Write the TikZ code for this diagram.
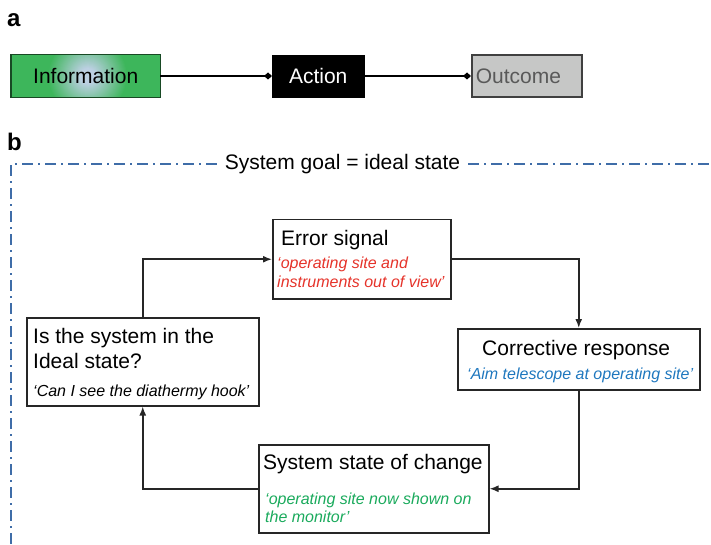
\documentclass[tikz,border=0pt]{standalone}
\usepackage{fontspec}
\setmainfont{Liberation Sans}
\usepackage{xcolor}
\usepackage{tikz}
\usetikzlibrary{arrows.meta}
\definecolor{goalblue}{HTML}{3F6DA8}
\definecolor{errred}{HTML}{E5332A}
\definecolor{resblue}{HTML}{1E77BE}
\definecolor{chggreen}{HTML}{1AAA5C}
\definecolor{infogreen}{HTML}{3DB65B}
\definecolor{infolight}{HTML}{BCD0E2}
\definecolor{outgray}{HTML}{C6C7C6}

\tikzset{
  panel/.style={font=\fontsize{24}{28}\selectfont\bfseries, anchor=base west, inner sep=0pt},
  stepbox/.style={draw=black!85, line width=1.5pt, anchor=north west, inner sep=0pt},
  head/.style={font=\fontsize{21}{25}\selectfont, anchor=base west, inner sep=0pt},
  quote/.style={font=\fontsize{16}{19}\selectfont\itshape, anchor=base west, inner sep=0pt},
  flow/.style={draw=black!85, line width=1.6pt, -{Latex[length=9pt,width=7pt]}},
  chainbox/.style={font=\fontsize{21}{25}\selectfont, minimum height=42pt, inner sep=0pt, anchor=west},
  link/.style={line width=2.8pt, -{Diamond[length=8pt,width=7pt]}},
  goalline/.style={goalblue, line width=1.4pt, dash pattern=on 11pt off 5pt on 2pt off 5pt}
}

\begin{document}
\begin{tikzpicture}[x=1pt, y=-1pt]
  \useasboundingbox (0,0) rectangle (711,545);
  \node[panel] (laba) at (7,27) {a};
  \node[chainbox, minimum width=149pt, fill=infogreen,
        path picture={
          \foreach \r in {40,39,...,1}{
            \pgfmathsetmacro\pc{min(100,(40-\r)*100/32)}
            \fill[infolight!\pc!infogreen] ([xshift=2pt]path picture bounding box.center) circle (\r pt);
          }}] (info) at (11,76) {Information};
  \draw[infogreen!40!black, line width=1.2pt] (info.south west) rectangle (info.north east);
  \node[chainbox, minimum width=92pt, fill=black, draw=black, text=white] (act) at (272,76) {Action};
  \node[chainbox, text width=102pt, inner xsep=4pt, align=left, fill=outgray,
        draw=black!75, line width=1.5pt, text=black!65] (outc) at (471,76) {Outcome};
  \draw[link] (info) -- (act);
  \draw[link] (act) -- (outc);

  \node[panel] (labb) at (7,151) {b};
  \node[font=\fontsize{21}{25}\selectfont, inner xsep=8pt, inner ysep=0pt] (goal) at (342.5,164) {System goal = ideal state};
  \coordinate (tl) at (11,164);
  \coordinate (bl) at (11,545);
  \coordinate (tr) at (711,164);
  \draw[goalline] (goal.west) -- (tl) -- (bl);
  \draw[goalline] (goal.east) -- (tr);

  \node[stepbox, minimum width=178pt, minimum height=79pt] (err) at (272,219) {};
  \node[head] (errt) at (281,245) {Error signal};
  \node[quote, text=errred] (errq1) at (277,268) {‘operating site and};
  \node[quote, text=errred] (errq2) at (277,287) {instruments out of view’};

  \node[stepbox, minimum width=242pt, minimum height=61pt] (corr) at (457,328) {};
  \node[head] (corrt) at (482,355) {Corrective response};
  \node[quote, text=resblue] (corrq) at (467,379) {‘Aim telescope at operating site’};

  \node[stepbox, minimum width=230pt, minimum height=88pt] (chg) at (258,444) {};
  \node[head] (chgt) at (263,469) {System state of change};
  \node[quote, text=chggreen] (chgq1) at (265,504) {‘operating site now shown on};
  \node[quote, text=chggreen] (chgq2) at (265,522) {the monitor’};

  \node[stepbox, minimum width=232pt, minimum height=88pt] (ideal) at (26,317) {};
  \node[head] (idealt1) at (33,343) {Is the system in the};
  \node[head] (idealt2) at (33,368) {Ideal state?};
  \node[quote] (idealq) at (33,396) {‘Can I see the diathermy hook’};

  \draw[flow] (ideal.north) |- (err.west);
  \draw[flow] (err.east) -| (corr.north);
  \draw[flow] (corr.south) |- (chg.east);
  \draw[flow] (chg.west) -| (ideal.south);
\end{tikzpicture}
\end{document}
